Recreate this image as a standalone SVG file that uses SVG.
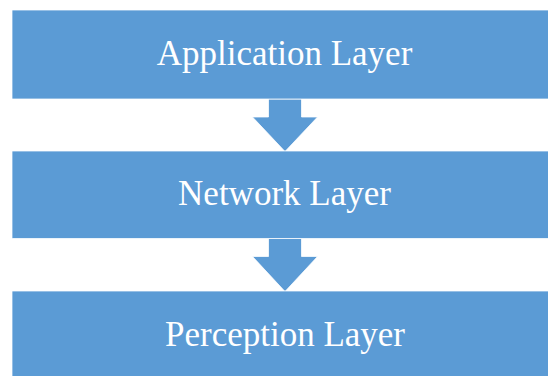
<svg xmlns="http://www.w3.org/2000/svg" width="548" height="376" viewBox="0 0 548 376">
  <style>
    .box { fill: #5B9BD5; stroke: #FFFFFF; stroke-width: 0.75; }
    .arrow { fill: #5B9BD5; stroke: #FFFFFF; stroke-width: 0.75; }
    .label { font-family: "Liberation Serif", "DejaVu Serif", serif; font-size: 35px; fill: #FFFFFF; text-anchor: middle; }
  </style>
  <rect width="548" height="376" fill="#FFFFFF"/>
  <g id="connectors">
    <polygon class="arrow" points="268.5,99 301.5,99 301.5,117 317.5,117 285,151.5 252.5,117 268.5,117"/>
    <polygon class="arrow" points="268.5,238.5 301.5,238.5 301.5,256.5 317.5,256.5 285,291.5 252.5,256.5 268.5,256.5"/>
  </g>
  <g id="application-layer">
    <rect class="box" x="12" y="10" width="540" height="89"/>
    <text class="label" x="284.5" y="64.5">Application Layer</text>
  </g>
  <g id="network-layer">
    <rect class="box" x="12" y="151" width="540" height="87.5"/>
    <text class="label" x="284.5" y="205">Network Layer</text>
  </g>
  <g id="perception-layer">
    <rect class="box" x="12" y="291" width="540" height="90"/>
    <text class="label" x="285" y="346">Perception Layer</text>
  </g>
</svg>
